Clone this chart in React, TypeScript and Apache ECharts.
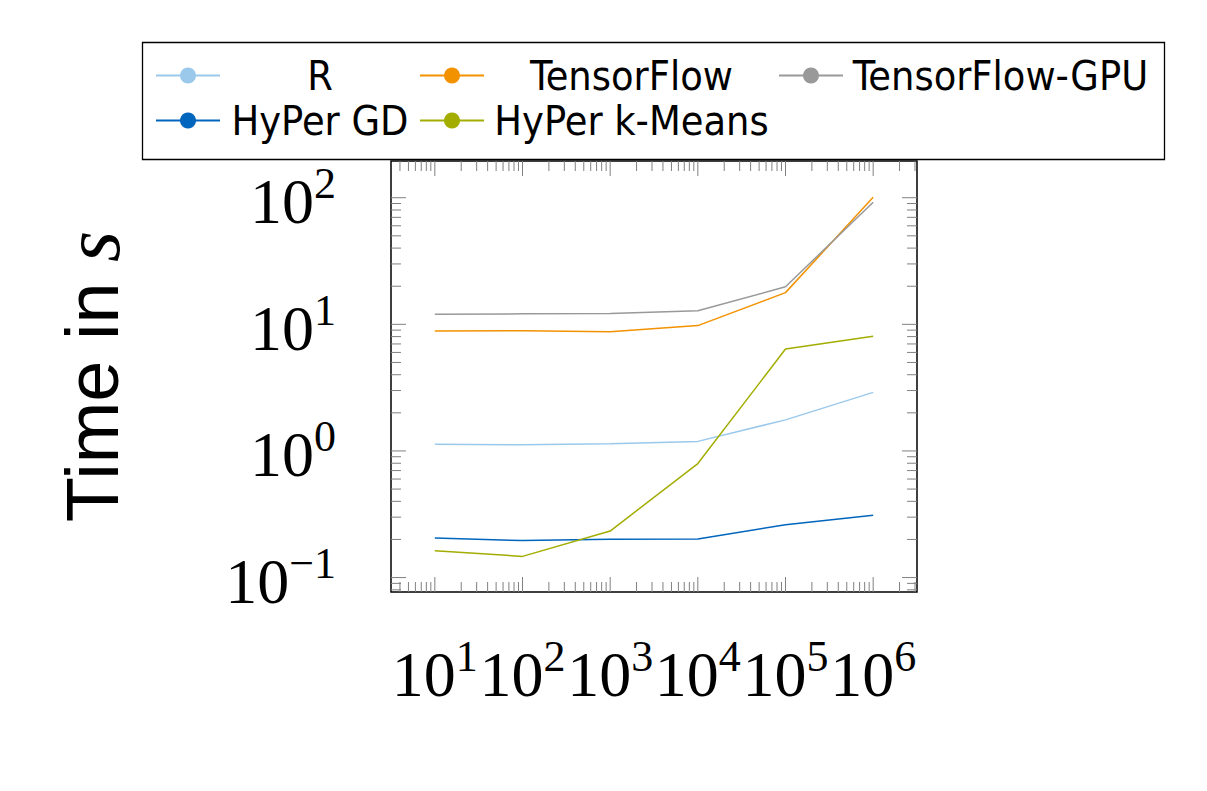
import React, { useEffect, useRef } from 'react';
import * as echarts from 'echarts';

// Problem sizes (x) and run times in seconds (y) per system
const sizes = [10, 100, 1000, 10000, 100000, 1000000];
const seriesNames = ['R', 'TensorFlow', 'TensorFlow-GPU', 'HyPer GD', 'HyPer k-Means'];
const rTimes = [1.13, 1.12, 1.14, 1.19, 1.76, 2.9];
const tensorflowTimes = [8.87, 8.9, 8.75, 9.77, 17.8, 100.7];
const tensorflowGpuTimes = [12.0, 12.1, 12.2, 12.8, 19.8, 92];
const hyperGdTimes = [0.205, 0.196, 0.201, 0.202, 0.261, 0.311];
const hyperKMeansTimes = [0.163, 0.147, 0.233, 0.795, 6.38, 8.05];
const seriesColors = ['#9BC9EC', '#F39200', '#999999', '#0065BD', '#A2AD00'];

// Axis extents, in decades
const xDecades = [0.5, 6.5];
const yDecades = [-1.114, 2.29];

// Legend column for each entry (3 columns, wrapping to a second row)
const legendColumn: Record<string, number> = {
  R: 0,
  TensorFlow: 1,
  'TensorFlow-GPU': 2,
  'HyPer GD': 0,
  'HyPer k-Means': 1,
};
const legendColumnWidths = [190, 285, 305];

const allTimes = [rTimes, tensorflowTimes, tensorflowGpuTimes, hyperGdTimes, hyperKMeansTimes];

// Log ticks 1..9 x 10^e inside a decade range; 1 x 10^e is a major tick
function logTicks(range: number[]) {
  const ticks: { value: number; major: boolean }[] = [];
  for (let e = Math.floor(range[0]); e <= Math.ceil(range[1]); e++) {
    for (let k = 1; k <= 9; k++) {
      const v = k * Math.pow(10, e);
      const lv = Math.log10(v);
      if (lv >= range[0] - 1e-9 && lv <= range[1] + 1e-9) ticks.push({ value: v, major: k === 1 });
    }
  }
  return ticks;
}

function powerLabel(v: number) {
  const lv = Math.log10(v);
  const e = Math.round(lv);
  if (Math.abs(lv - e) > 1e-6) return '';
  const exp = e < 0 ? '\u2212' + -e : String(e);
  return `{b|10}{s|${exp}}`;
}

const serif = "'Liberation Serif', 'Times New Roman', serif";
const narrowSans = "'DejaVu Sans Condensed', 'Liberation Sans', sans-serif";

const powerRich = {
  b: { fontFamily: serif, fontSize: 64, color: '#000', padding: [8, 0, 0, 0] },
  s: { fontFamily: serif, fontSize: 44, color: '#000', verticalAlign: 'top' },
};

const TICK_COLOR = '#808080';

export default function App() {
  const ref = useRef<HTMLDivElement>(null);

  useEffect(() => {
    if (!ref.current) return;
    const chart = echarts.init(ref.current, null, { renderer: 'svg' });

    const xTicks = logTicks(xDecades);
    const yTicks = logTicks(yDecades);

    const legendRich: Record<string, any> = {};
    legendColumnWidths.forEach((w, i) => {
      legendRich['c' + i] = {
        width: w,
        align: 'center',
        fontFamily: narrowSans,
        fontSize: 41,
        lineHeight: 45,
        color: '#000',
      };
    });

    const option: any = {
      animation: false,
      backgroundColor: '#fff',
      grid: {
        left: 391,
        top: 161,
        width: 526,
        height: 431,
        show: true,
        borderColor: '#000',
        borderWidth: 1.5,
        backgroundColor: 'transparent',
      },
      legend: {
        left: 150,
        top: 50,
        width: 1015,
        padding: 5,
        itemWidth: 64,
        itemHeight: 20,
        itemGap: 4,
        selectedMode: false,
        data: seriesNames,
        formatter: (name: string) => `{c${legendColumn[name]}|${name}}`,
        textStyle: { fontFamily: narrowSans, fontSize: 41, color: '#000', rich: legendRich },
      },
      graphic: [
        {
          type: 'rect',
          z: -1,
          shape: { x: 142.5, y: 42.5, width: 1022, height: 117 },
          style: { fill: '#fff', stroke: '#000', lineWidth: 1.3 },
        },
      ],
      xAxis: {
        type: 'log',
        logBase: 10,
        min: Math.pow(10, xDecades[0]),
        max: Math.pow(10, xDecades[1]),
        axisLine: { show: false },
        axisTick: { show: false },
        splitLine: { show: false },
        axisLabel: {
          formatter: powerLabel,
          rich: powerRich,
          margin: 42,
          showMinLabel: false,
          showMaxLabel: false,
        },
      },
      yAxis: {
        type: 'log',
        logBase: 10,
        min: Math.pow(10, yDecades[0]),
        max: Math.pow(10, yDecades[1]),
        axisLine: { show: false },
        axisTick: { show: false },
        splitLine: { show: false },
        axisLabel: {
          formatter: powerLabel,
          rich: powerRich,
          margin: 55,
          align: 'right',
          showMinLabel: false,
          showMaxLabel: false,
        },
        name: '{a|Time in }{b|s}',
        nameLocation: 'middle',
        nameGap: 259,
        nameRotate: 90,
        nameTextStyle: {
          rich: {
            a: { fontFamily: "'Liberation Sans', sans-serif", fontSize: 74, color: '#000' },
            b: { fontFamily: serif, fontStyle: 'italic', fontSize: 80, color: '#000' },
          },
        },
      },
      series: [
        ...seriesNames.map((name, i) => ({
          name,
          type: 'line',
          data: sizes.map((s, j) => [s, allTimes[i][j]]),
          symbol: 'none',
          color: seriesColors[i],
          lineStyle: { width: 1.5, color: seriesColors[i] },
          z: 3 + i,
        })),
        {
          // tick marks on the bottom and top edges
          type: 'custom',
          silent: true,
          z: 2,
          data: xTicks.map((t) => [t.value, 1, t.major ? 1 : 0]),
          renderItem: (params: any, api: any) => {
            const cs = params.coordSys;
            const p = api.coord([api.value(0), api.value(1)]);
            const len = api.value(2) ? 15 : 10;
            const style = { stroke: TICK_COLOR, lineWidth: 1 };
            return {
              type: 'group',
              children: [
                { type: 'line', shape: { x1: p[0], y1: cs.y + cs.height, x2: p[0], y2: cs.y + cs.height - len }, style },
                { type: 'line', shape: { x1: p[0], y1: cs.y, x2: p[0], y2: cs.y + len }, style },
              ],
            };
          },
        },
        {
          // tick marks on the left and right edges
          type: 'custom',
          silent: true,
          z: 2,
          data: yTicks.map((t) => [10, t.value, t.major ? 1 : 0]),
          renderItem: (params: any, api: any) => {
            const cs = params.coordSys;
            const p = api.coord([api.value(0), api.value(1)]);
            const len = api.value(2) ? 15 : 10;
            const style = { stroke: TICK_COLOR, lineWidth: 1 };
            return {
              type: 'group',
              children: [
                { type: 'line', shape: { x1: cs.x, y1: p[1], x2: cs.x + len, y2: p[1] }, style },
                { type: 'line', shape: { x1: cs.x + cs.width, y1: p[1], x2: cs.x + cs.width - len, y2: p[1] }, style },
              ],
            };
          },
        },
      ],
    };

    chart.setOption(option);
    return () => chart.dispose();
  }, []);

  return (
    <div
      ref={ref}
      style={{ position: 'absolute', left: 0, top: 0, width: 1207, height: 791, background: '#fff' }}
    />
  );
}
